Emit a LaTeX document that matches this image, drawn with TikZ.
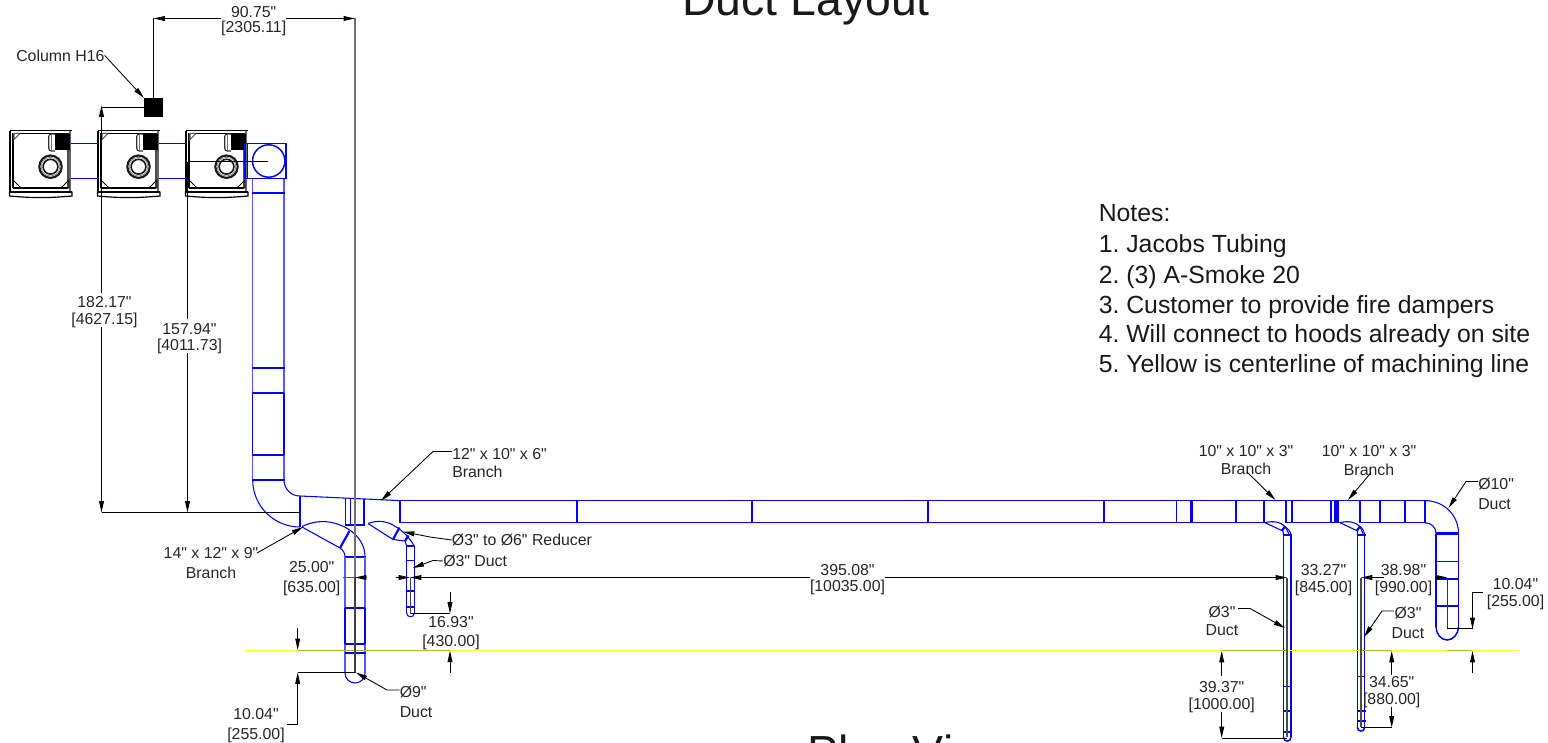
\documentclass[tikz,border=0pt]{standalone}
\usepackage{fontspec}
\setmainfont{Liberation Sans}[Ligatures=TeXOff]
\usetikzlibrary{arrows.meta}
\definecolor{duct}{RGB}{0,0,255}
\definecolor{ylw}{RGB}{255,255,50}
\definecolor{olv}{RGB}{185,175,35}
\frenchspacing
\tikzset{
 tb/.style={draw=duct,line width=.8pt},
 tk/.style={draw=duct,line width=1.6pt},
 lite/.style={draw=duct!65,line width=.9pt},
 dm/.style={draw=black,line width=.7pt},
 ld/.style={draw=black,line width=.65pt},
 gr/.style={draw=black!55,line width=1.2pt},
 ar/.style={-{Triangle[length=8.5pt,width=3.6pt]}},
 ra/.style={{Triangle[length=8.5pt,width=3.6pt]}-},
 lab/.style={inner sep=0pt,align=center,font=\fontsize{11.9pt}{#1}\selectfont,text=black!85},
 lab/.default=13.7pt,
 labl/.style={inner sep=0pt,align=left,anchor=west,font=\fontsize{11.9pt}{#1}\selectfont,text=black!85},
 labl/.default=13.7pt,
 note/.style={inner sep=0pt,anchor=base west,font=\fontsize{18.6pt}{20pt}\selectfont,text=black!90},
 ttl/.style={inner sep=0pt,anchor=base west,font=\fontsize{34.8pt}{40pt}\selectfont,text=black!90},
}
\begin{document}
\begin{tikzpicture}[x=0.75pt,y=-0.75pt]
\useasboundingbox (0,0) rectangle (1548,742);
\clip (0,0) rectangle (1548,742);
% machines
\foreach \mx/\mn in {0/a,88/b,176/c}{
\begin{scope}[shift={(\mx,0)}]
 \draw[black,line width=1.2pt] (9.5,130.5) -- (72,130.5);
 \draw[black,line width=1.1pt] (10,130.5) -- (10,191.5) (13.2,133) -- (13.2,188);
 \draw[black,line width=.9pt] (13,133.3) -- (69,133.3);
 \draw[black!60,line width=1.1pt] (70,131) -- (70,191.5);
 \draw[black!70,line width=.8pt] (68,150) -- (68,188);
 \draw[black,line width=1.2pt] (13,188) -- (68,188);
 \draw[black,line width=1.2pt] (9.5,191.7) -- (72,191.7);
 \draw[black,line width=.9pt] (9.5,191.7) -- (9.5,196) to[out=-5,in=185] (72,196) -- (72,191.7);
 \fill[black!70] (13,133) -- (21,133) -- (13,141) -- cycle;
 \fill[white] (14.5,134) -- (18.5,134) -- (14.5,138) -- cycle;
 \draw[black,line width=.7pt] (13,188) -- (21,188) -- (13,180) -- cycle (69,188) -- (61,188) -- (69,180) -- cycle;
 \draw[black!80,line width=.9pt,rounded corners=2pt] (55,151) -- (48.7,151) -- (48.7,134) -- (55,134);
 \draw[black!55,line width=.6pt] (51.5,135) -- (51.5,150);
 \fill[black] (54.5,133.5) rectangle (69.5,150);
 \draw[black!90,line width=1.6pt] (50.5,166.7) circle[radius=11.2];
 \draw[black!90,line width=1.2pt] (50.5,166.7) circle[radius=7.4];
 \draw[black!45,line width=.6pt] (50.5,166.7) circle[radius=9.3];
\end{scope}}
% column
\fill[black] (144,98) rectangle (163,117);
\node[inner sep=0pt,minimum size=0pt] (col) at (153.5,107.5) {};
% blue top connections
\draw[tb,line width=.9pt] (71,143.5) -- (97.5,143.5) (71,178.7) -- (97.5,178.7) (159,143.5) -- (185.5,143.5) (159,178.7) -- (185.5,178.7);
\draw[tb] (245,143.5) rectangle (286,178.5) (247.5,143.5) -- (247.5,178.5);
\draw[draw=duct,line width=1.1pt] (268.7,161) circle[radius=16.2];
% main vertical duct
\draw[lite] (252.7,178.5) -- (252.7,393) (284,178.5) -- (284,393) (252.7,455) -- (252.7,480) (284,455) -- (284,480);
\draw[tb] (252.7,393) -- (252.7,455) (284,393) -- (284,455);
\draw[tk] (252,192.7) -- (284.6,192.7) (252,368.3) -- (284.6,368.3) (252,480) -- (284.6,480);
\draw[tb] (252,393) -- (284,393) (252,455) -- (284,455);
% elbow
\draw[tb] (252.7,480) .. controls (252.7,506) and (274,527) .. (300,527);
\draw[tb] (284,480) .. controls (284,489) and (291,496) .. (300,496);
% reducer
\draw[tk] (300,496) -- (300,527);
\draw[tb] (300,496) -- (400,500.6);
\draw[tb] (345.7,498.2) -- (345.7,525) (350.5,498.4) -- (350.5,525) (345,525) -- (364,525);
\draw[tk] (364,499) -- (364,525.5);
% branch 9in
\draw[tb] (302,526.5) .. controls (312,521.5) and (322,521) .. (329,522) .. controls (348,525) and (365,538) .. (365,557);
\draw[tb] (302,527) -- (340,548);
\draw[tk] (340,548) -- (349.5,531);
\draw[tb] (340,548) .. controls (343,550) and (345,553) .. (345,557);
\draw[tk] (344.5,557) -- (365.5,557);
\draw[lite] (345,557) -- (345,673) (365,557) -- (365,673);
\draw[tb] (345,608) -- (365,608) (345,644) -- (365,644);
\draw[tb] (345,608) -- (345,644) (365,608) -- (365,644);
\draw[tk] (344.5,652.7) -- (365.5,652.7);
\draw[tb] (345,673) .. controls (345,679) and (350,683) .. (355,683) .. controls (360,683) and (365,679) .. (365,673);
% branch 6in / reducer
\draw[tb] (368,523.5) .. controls (376,520.5) and (385,520.5) .. (393,525) .. controls (400,529) and (408,535) .. (414.3,546);
\draw[tb] (368,523.5) -- (393,539.5);
\draw[tk] (393,539.5) -- (399.5,527.5);
\draw[tk] (405,541) -- (408.5,535.5);
\draw[tb] (393,539.5) -- (405,541);
\draw[tb] (405,541) -- (406.7,546);
\draw[tk] (406,546) -- (415,546);
\draw[tb] (406.7,546) -- (406.7,613) (414.3,546) -- (414.3,613);
\draw[tb] (406.7,560.7) -- (414.3,560.7);
\draw[tk] (406,590.7) -- (415,590.7) (406,606.7) -- (415,606.7);
\draw[tb] (406.7,613) .. controls (406.7,618) and (414.3,618) .. (414.3,613);
% main run
\draw[tb,line width=1.05pt] (400,500.6) -- (1424.7,500.6);
\draw[tb,line width=1.05pt] (400,522.7) -- (1264,522.7) (1286,522.7) -- (1340,522.7) (1360,522.7) -- (1424.7,522.7);
\foreach \vx in {400,576.7,752,928,1104,1190.7,1236,1264,1286,1330.7,1337.5,1360,1405,1424.7}{\draw[tk] (\vx,500) -- (\vx,523.2);}
\foreach \vx in {1176.7,1192.7,1292,1335,1380}{\draw[tb] (\vx,500.6) -- (\vx,522.7);}
% end elbow
\draw[tb] (1424.7,500.6) .. controls (1444,500.6) and (1458.5,515) .. (1458.5,533.5);
\draw[tb] (1424.7,522.7) .. controls (1431,522.7) and (1436,527) .. (1436,533.5);
\draw[tk] (1435.5,533.5) -- (1459,533.5);
\draw[tb] (1436,533.5) -- (1436,626.7) (1458.5,533.5) -- (1458.5,626.7);
\draw[tb] (1436,561.7) -- (1458.5,561.7);
\draw[tk] (1435.5,579) -- (1459,579) (1435.5,605.7) -- (1459,605.7);
\draw[tb,line width=1.1pt] (1436,626.7) .. controls (1436,634) and (1441,640) .. (1447.2,640) .. controls (1453,640) and (1458.5,634) .. (1458.5,626.7);
% 3in branch 1
\draw[tb] (1265,522.7) .. controls (1273,520.5) and (1281,522) .. (1285,526.5) .. controls (1288,529) and (1291,532) .. (1291,535);
\draw[tb] (1265,522.7) -- (1281.7,530.5);
\draw[tk] (1281.7,531) -- (1285,526.5);
\draw[tb] (1285,526.5) -- (1289.5,535) (1283,531) -- (1283.5,535);
\draw[tk] (1282.5,535) -- (1292,535);
\draw[tb] (1283.5,535) -- (1283.5,737) (1291,535) -- (1291,737);
\draw[tb] (1283.5,686.7) -- (1291,686.7);
\draw[tk] (1282.5,711) -- (1292,711) (1282.5,731.7) -- (1292,731.7);
\draw[tb,line width=1.1pt] (1283.5,737) .. controls (1283.5,742.5) and (1291,742.5) .. (1291,737);
% 3in branch 2
\draw[tb] (1340,522.7) .. controls (1348,520.5) and (1356,522) .. (1360,526.5) .. controls (1363,529) and (1364.7,532) .. (1364.7,535);
\draw[tb] (1340,522.7) -- (1356.5,530.5);
\draw[tk] (1356.5,531) -- (1360,526.5);
\draw[tb] (1360,526.5) -- (1363.5,535) (1357.5,531) -- (1357.3,535);
\draw[tk] (1356.5,535) -- (1365.5,535);
\draw[tb] (1357.3,535) -- (1357.3,727) (1364.7,535) -- (1364.7,727);
\draw[tb] (1357.3,676.7) -- (1364.7,676.7);
\draw[tk] (1356.5,711) -- (1365.5,711) (1356.5,720.7) -- (1365.5,720.7);
\draw[tb,line width=1.1pt] (1357.3,727) .. controls (1357.3,732.5) and (1364.7,732.5) .. (1364.7,727);
% yellow centreline
\draw[draw=ylw,line width=1.2pt] (245,650.5) -- (1519,650.5);
\draw[draw=olv,line width=1.3pt] (297.7,650.5) -- (450,650.5) (1221.7,650.5) -- (1288,650.5) (1360,650.5) -- (1391.7,650.5) (1447,650.5) -- (1471.7,650.5);
% labels
\node[ttl] (title) at (682,16) {Duct Layout};
\node[ttl] (plan) at (807,768) {Plan View};
\node[note] (n0) at (1098.5,221) {Notes:};
\node[note] (n1) at (1098.5,252) {1. Jacobs Tubing};
\node[note] (n2) at (1098.5,283) {2. (3) A-Smoke 20};
\node[note] (n3) at (1098.5,313) {3. Customer to provide fire dampers};
\node[note] (n4) at (1098.5,342) {4. Will connect to hoods already on site};
\node[note] (n5) at (1098.5,372) {5. Yellow is centerline of machining line};
\node[labl] (colh) at (16,55.5) {Column H16};
\node[lab=11.8pt] (d1) at (253.7,21) {90.75"\\{}[2305.11]};
\node[lab=12.45pt] (d2) at (104.5,312.2) {182.17"\\{}[4627.15]};
\node[lab=12pt] (d3) at (189.5,339) {157.94"\\{}[4011.73]};
\node[lab=14.5pt] (d4) at (311.7,578.6) {25.00"\\{}[635.00]};
\node[lab=12pt] (d5) at (847.5,579.2) {395.08"\\{}[10035.00]};
\node[lab=13pt] (d6) at (1323.5,580.2) {33.27"\\{}[845.00]};
\node[lab=13pt] (d7) at (1403.5,580.2) {38.98"\\{}[990.00]};
\node[lab=13pt] (d8) at (1515.5,594.2) {10.04"\\{}[255.00]};
\node[lab=13.7pt] (d9) at (451,633.1) {16.93"\\{}[430.00]};
\node[lab=15pt] (d10) at (256,725.5) {10.04"\\{}[255.00]};
\node[lab=12.45pt] (d11) at (1221.7,697.2) {39.37"\\{}[1000.00]};
\node[lab=12.45pt] (d12) at (1391.7,692.2) {34.65"\\{}[880.00]};
\node[lab=15pt] (b1) at (211,563) {14" x 12" x 9"\\Branch};
\node[labl=13.7pt] (b2) at (452,463) {12" x 10" x 6"\\Branch};
\node[labl] (b3) at (451.7,540) {Ø3" to Ø6" Reducer};
\node[labl] (b4) at (443,561) {Ø3" Duct};
\node[labl=15pt] (b5) at (399.5,702) {Ø9"\\Duct};
\node[lab=13.7pt] (b6) at (1246,459.8) {10" x 10" x 3"\\Branch};
\node[lab=14.25pt] (b7) at (1369,460.8) {10" x 10" x 3"\\Branch};
\node[labl=15pt] (b8) at (1478,493.7) {Ø10"\\Duct};
\node[lab=13.7pt] (b9) at (1222,620.8) {Ø3"\\Duct};
\node[lab=15pt] (b10) at (1408,623.2) {Ø3"\\Duct};
% coordinates
\coordinate (L1) at (153.5,18.5);
\coordinate (R1) at (355,18.5);
\coordinate (base) at (300,512.5);
% grey extension
\draw[gr] (R1) -- (355,577.5);
\draw[draw=black!75,line width=1.2pt] (355,577.5) -- (355,672.5);
\draw[draw=black!70,line width=1pt] (1287,577.5) -- (1287,737);
\draw[draw=black!70,line width=1pt] (1361,577.5) -- (1361,727);
\draw[draw=black!75,line width=.9pt] (410.5,577.5) -- (410.5,613.5);
\draw[draw=black!80,line width=.9pt] (1447.3,579) -- (1447.3,628.5);
% dimensions
\draw[dm,ar] (d1.west |- R1) -- (L1);
\draw[dm,ar] (d1.east |- R1) -- (R1);
\draw[dm] (L1) -- (153.5,98);
\draw[dm] (col) -- (101.5,107.5);
\draw[dm] (268,161.5) -- (187.5,161.5);
\draw[dm,ar] (101.5,293) -- (101.5,105.5);
\draw[dm,ar] (101.5,327) -- (101.5,512.5);
\draw[dm] (187.5,319) -- (187.5,161.5);
\draw[dm,ar] (187.5,185) -- (187.5,161.5);
\draw[dm,ar] (187.5,353) -- (187.5,512.5);
\draw[dm] (101.5,512.5) -- (base);
% horizontal run
\draw[draw=black!65,line width=1pt] (343,577.5) -- (366,577.5);
\draw[dm,ra] (355,577.5) -- (367,577.5);
\draw[dm,ar] (396,577.5) -- (410,577.5);
\draw[dm,ra] (410,577.5) -- (d5.west |- 0,577.5);
\draw[dm,ar] (d5.east |- 0,577.5) -- (1287,577.5);
\draw[dm,ra] (1361,577.5) -- (1384,577.5);
\draw[dm,ar] (1435,577.5) -- (1447.3,577.5);
% 16.93
\draw[dm,ar] (450,592) -- (450,613.5);
\draw[dm] (410.5,613.5) -- (450,613.5);
\draw[dm,ar] (450,673) -- (450,650.7);
% 10.04 left
\draw[dm,ar] (297.7,628) -- (297.7,650);
\draw[dm,ra] (297.7,672.5) -- (297.7,724.5) -- (287,724.5);
\draw[dm] (297.7,672.5) -- (355,672.5);
% 10.04 right
\draw[dm,ar] (1483,592.5) -- (1472.5,592.5) -- (1472.5,629);
\draw[dm] (1447.3,628.5) -- (1472.5,628.5);
\draw[dm,ar] (1472.5,673) -- (1472.5,651);
% 39.37
\draw[dm,ar] (1221.7,676) -- (1221.7,651);
\draw[dm,ar] (1221.7,712) -- (1221.7,738);
\draw[dm] (1221.7,738) -- (1287,738);
% 34.65
\draw[dm,ar] (1391.7,675) -- (1391.7,651);
\draw[dm,ar] (1391.7,707) -- (1391.7,727.5);
\draw[dm] (1361,727.5) -- (1391.7,727.5);
% leaders
\draw[ld,ar] (colh.east) -- (144,98);
\draw[ld,ar] (257,553) -- (303,527);
\draw[ld,ar] (b2.west |- 0,451.5) -- (433,451.5) -- (381,500.7);
\draw[ld,ar] (b3.west) -- (430,537) -- (403,531.7);
\draw[ld,ar] (b4.west) -- (433,560.5) -- (412.7,568);
\draw[ld,ar] (b5.west |- 0,690) -- (387,690) -- (356,672.5);
\draw[ld,ar] (1247,472) -- (1275.5,500);
\draw[ld,ar] (1370.7,473) -- (1348,500);
\draw[ld,ar] (b8.west |- 0,481.5) -- (1466,481.5) -- (1448.5,508);
\draw[ld,ar] (1238,608.5) -- (1250,608.5) -- (1285,628);
\draw[ld,ar] (1394,611) -- (1382,611) -- (1364,637);
\end{tikzpicture}
\end{document}
